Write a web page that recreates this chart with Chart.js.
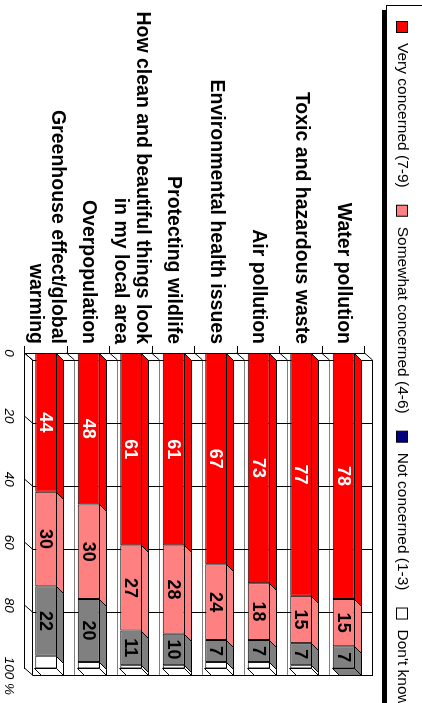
<!DOCTYPE html>
<html>
<head>
<meta charset="utf-8">
<script src="https://cdn.jsdelivr.net/npm/chart.js@4.4.0/dist/chart.umd.min.js"></script>
<style>
  html, body { margin: 0; padding: 0; background: #fff; overflow: hidden; }
  /* the chart is drawn upright and then turned a quarter turn clockwise */
  #wrap { position: absolute; left: 0; top: 0; width: 703px; height: 422px;
          transform-origin: 0 0; transform: translate(422px, 0) rotate(90deg); }
</style>
</head>
<body>
<div id="wrap"><canvas id="chart" width="703" height="422"></canvas></div>
<script>
const categories = [
    'Water pollution',
    'Toxic and hazardous waste',
    'Air pollution',
    'Environmental health issues',
    'Protecting wildlife',
    ['How clean and beautiful things look', 'in my local area'],
    'Overpopulation',
    ['Greenhouse effect/global', 'warming']
];
const seriesNames = ['Very concerned (7-9)', 'Somewhat concerned (4-6)', 'Not concerned (1-3)', "Don't know"];
const veryConcerned     = [78, 77, 73, 67, 61, 61, 48, 44];
const somewhatConcerned = [15, 15, 18, 24, 28, 27, 30, 30];
const notConcerned      = [7, 7, 7, 7, 10, 11, 20, 22];
const dontKnow          = [0, 1, 2, 2, 1, 1, 2, 4];
const valueTicks = ['0', '20', '40', '60', '80', '100 %'];

const series = [veryConcerned, somewhatConcerned, notConcerned, dontKnow];
const barColors = ['#ff0000', '#ff8080', '#808080', '#ffffff'];
const legendColors = ['#ff0000', '#ff8080', '#000080', '#ffffff'];
const labelColors = ['#ffffff', '#000000', '#000000', null];

const FONT = '"Liberation Sans", Arial, sans-serif';
const DX = 7, DY = 7;   // bar depth
const WX = 7, WY = 8;   // wall depth

function face(ctx, pts, fill) {
    ctx.beginPath();
    ctx.moveTo(pts[0][0], pts[0][1]);
    for (let k = 1; k < pts.length; k++) ctx.lineTo(pts[k][0], pts[k][1]);
    ctx.closePath();
    ctx.fillStyle = fill;
    ctx.fill();
    ctx.stroke();
}

function line(ctx, x1, y1, x2, y2) {
    ctx.beginPath();
    ctx.moveTo(x1, y1);
    ctx.lineTo(x2, y2);
    ctx.stroke();
}

// back wall, side wall and floor lines
const walls = {
    id: 'walls',
    beforeDatasetsDraw(chart) {
        const {ctx, chartArea: a, scales: {x, y}} = chart;
        const c0 = y.getPixelForValue(0);
        const band = y.getPixelForValue(1) - c0;
        const x0 = x.getPixelForValue(0), x1 = x.getPixelForValue(100);
        ctx.save();
        ctx.lineWidth = 1;
        for (let i = 0; i <= categories.length; i++) {
            const b = Math.round(c0 - band / 2 + i * band) + 0.5;
            ctx.strokeStyle = (i === 0 || i === categories.length) ? '#000' : '#808080';
            line(ctx, x0 + WX, b - WY, x1 + WX, b - WY);
            ctx.strokeStyle = '#000';
            line(ctx, x0, b, x0 + WX, b - WY);
        }
        ctx.strokeStyle = '#000';
        x.ticks.forEach(t => {
            const px = Math.round(x.getPixelForValue(t.value)) + 0.5;
            line(ctx, px + WX, a.top - WY, px + WX, a.bottom - WY);
            line(ctx, px, a.bottom, px + WX, a.bottom - WY);
        });
        ctx.restore();
    }
};

// top faces and end caps of the bars
const depth = {
    id: 'depth',
    afterDatasetsDraw(chart) {
        const {ctx} = chart;
        ctx.save();
        ctx.strokeStyle = '#000';
        ctx.lineWidth = 1;
        categories.forEach((c, j) => {
            let last = null;
            chart.data.datasets.forEach((ds, i) => {
                if (!ds.data[j]) return;
                const bar = chart.getDatasetMeta(i).data[j];
                const {x, y, base, height} = bar.getProps(['x', 'y', 'base', 'height'], true);
                const top = Math.round(y - height / 2) + 0.5;
                const bx = Math.round(base) + 0.5, ex = Math.round(x) + 0.5;
                face(ctx, [[bx, top], [ex, top], [ex + DX, top - DY], [bx + DX, top - DY]], barColors[i]);
                last = {ex, top, bottom: top + Math.round(height), color: barColors[i]};
            });
            if (last) {
                face(ctx, [[last.ex, last.top], [last.ex, last.bottom], [last.ex + DX, last.bottom - DY], [last.ex + DX, last.top - DY]], last.color);
            }
        });
        ctx.restore();
    }
};

// numbers inside the segments
const valueLabels = {
    id: 'valueLabels',
    afterDatasetsDraw(chart) {
        const {ctx} = chart;
        ctx.save();
        ctx.font = 'bold 18px ' + FONT;
        ctx.textAlign = 'center';
        ctx.textBaseline = 'middle';
        chart.data.datasets.forEach((ds, i) => {
            if (!labelColors[i]) return;
            ctx.fillStyle = labelColors[i];
            chart.getDatasetMeta(i).data.forEach((bar, j) => {
                if (!ds.data[j]) return;
                const {x, y, base} = bar.getProps(['x', 'y', 'base'], true);
                ctx.fillText(String(ds.data[j]), (x + base) / 2, y + 1);
            });
        });
        ctx.restore();
    }
};

// framed legend with a shadow, running off the edge
const boxedLegend = {
    id: 'boxedLegend',
    afterDraw(chart) {
        const {ctx, width} = chart;
        ctx.save();
        ctx.fillStyle = '#000';
        ctx.fillRect(10, 36, width, 4);
        ctx.fillStyle = '#fff';
        ctx.fillRect(5, -5, width, 40);
        ctx.strokeStyle = '#000';
        ctx.lineWidth = 1;
        ctx.strokeRect(5.5, -5, width, 40.5);
        ctx.font = '15.5px ' + FONT;
        ctx.textBaseline = 'middle';
        ctx.textAlign = 'left';
        let px = 21;
        chart.data.datasets.forEach((ds, i) => {
            ctx.fillStyle = legendColors[i];
            ctx.fillRect(px + 0.5, 14.5, 11, 11);
            ctx.strokeRect(px + 0.5, 14.5, 11, 11);
            ctx.fillStyle = '#000';
            ctx.fillText(ds.label, px + 22, 20);
            px += 22 + ctx.measureText(ds.label).width + 17;
        });
        ctx.restore();
    }
};

new Chart(document.getElementById('chart'), {
    type: 'bar',
    data: {
        labels: categories,
        datasets: seriesNames.map((name, i) => ({
            label: name,
            data: series[i],
            backgroundColor: barColors[i],
            borderColor: '#000',
            borderWidth: 1,
            borderSkipped: false,
            categoryPercentage: 1,
            barPercentage: 0.52
        }))
    },
    options: {
        indexAxis: 'y',
        responsive: false,
        animation: false,
        devicePixelRatio: 1,
        layout: { padding: { top: 57, right: 32, bottom: 0, left: 0 } },
        plugins: { legend: { display: false }, tooltip: { enabled: false } },
        scales: {
            x: {
                stacked: true,
                min: 0,
                max: 100,
                ticks: {
                    stepSize: 20,
                    padding: 8,
                    color: '#000',
                    font: { family: FONT, size: 13.5, style: 'italic' },
                    callback: (v, i) => valueTicks[i].endsWith('%') ? '    ' + valueTicks[i] : valueTicks[i]
                },
                grid: { display: false, drawTicks: false },
                border: { display: true, color: '#000' },
                afterFit: s => { s.height = 25; }
            },
            y: {
                stacked: true,
                ticks: { autoSkip: false, padding: 2, color: '#000', font: { family: FONT, size: 19.5, weight: 'bold', lineHeight: 1.15 } },
                grid: { drawOnChartArea: false, tickLength: 7, color: '#000', offset: true },
                border: { display: true, color: '#000' },
                afterFit: s => { s.width = 353; }
            }
        }
    },
    plugins: [walls, depth, valueLabels, boxedLegend]
});
</script>
</body>
</html>
